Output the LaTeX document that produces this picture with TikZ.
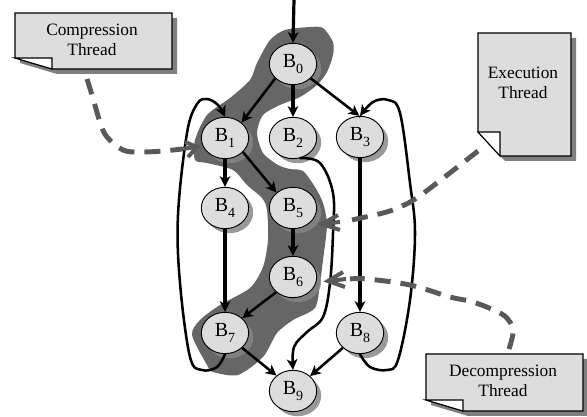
\documentclass[tikz,border=0pt]{standalone}
\usepackage{fontspec}
\setmainfont{Liberation Serif}
\usetikzlibrary{arrows.meta,shapes.geometric,shadows}
\definecolor{blobc}{HTML}{666666}
\definecolor{nodec}{HTML}{DDDDDD}
\definecolor{dashc}{HTML}{595959}
\definecolor{shadc}{HTML}{858585}
\definecolor{noteshad}{HTML}{808080}
\newcommand{\blocklabel}[1]{B\raisebox{-0.32em}{\fontsize{10.5}{12}\selectfont #1}}
\tikzset{
  block/.style={ellipse,draw=black,line width=0.7pt,fill=nodec,minimum width=35.5pt,minimum height=31pt,inner sep=0pt,
    font=\fontsize{15}{17}\selectfont,
    drop shadow={shadow xshift=3.4pt,shadow yshift=-3.4pt,fill=shadc,opacity=0.84}},
  edgeline/.style={draw=black,line width=1.9pt,-{Stealth[length=8pt,width=8pt,inset=2.2pt]}},
  vertline/.style={edgeline,line width=2.4pt},
  loopline/.style={edgeline,line cap=round},
  threadline/.style={draw=dashc,line width=3.7pt,dash pattern=on 12pt off 7.5pt},
  threadtip/.style={draw=dashc,line width=3pt,line join=miter},
  notebody/.style={draw=black,line width=0.8pt,fill=nodec},
  noteshadow/.style={fill=noteshad},
  notefold/.style={draw=black,line width=0.8pt,fill=white},
  notetext/.style={align=center,inner sep=0pt,font=\fontsize{13}{14.8}\selectfont},
}
\begin{document}
\begin{tikzpicture}[x=0.75pt,y=-0.75pt]
\useasboundingbox (0,0) rectangle (587,417);
% shaded region
\fill[blobc] plot[smooth cycle,tension=0.45] coordinates {
 (285,30) (310,27) (323,28) (333,42) (333,55) (327,72) (317,85) (300,97) (280,105) (263,115) (257,133) (263,153)
 (278,165) (290,169) (303,171) (315,187) (323,203) (327,225) (323,260) (320,283) (315,308) (293,320) (277,333)
 (263,357) (238,375) (213,372) (207,365) (192,335) (200,320) (220,305) (250,288) (263,267) (268,240) (267,210)
 (262,198) (247,185) (233,170) (207,163) (195,160) (195,140) (207,115) (230,98) (250,80) (257,63) (270,40)};
% blocks
\node[block] (B0) at (293,64) {\blocklabel{0}};
\node[block] (B1) at (225,138) {\blocklabel{1}};
\node[block] (B2) at (293,138) {\blocklabel{2}};
\node[block] (B3) at (360,137) {\blocklabel{3}};
\node[block] (B4) at (225,208) {\blocklabel{4}};
\node[block] (B5) at (293,208) {\blocklabel{5}};
\node[block] (B6) at (293,277) {\blocklabel{6}};
\node[block] (B7) at (225,333) {\blocklabel{7}};
\node[block] (B8) at (360,333) {\blocklabel{8}};
\node[block] (B9) at (293,391) {\blocklabel{9}};
\coordinate (entry) at (294,0);
% edges
\draw[vertline] (entry) -- (B0.north);
\draw[edgeline] (B0.219) -- (B1.43);
\draw[vertline] (B0.south) -- (B2.north);
\draw[edgeline] (B0.321) -- (B3.92);
\draw[vertline] (B1.south) -- (B4.north);
\draw[edgeline] (B1.322) -- (B5.137);
\draw[vertline] (B3.south) -- (B8.north);
\draw[vertline] (B4.south) -- (B7.north);
\draw[vertline] (B5.south) -- (B6.north);
\draw[edgeline] (B6.222) -- (B7.41);
\draw[edgeline] (B7.319) -- (B9.137);
\draw[edgeline] (B8.221) -- (B9.41);
\draw[loopline] plot[smooth,tension=0.6] coordinates {(B7.south) (217,367) (202,370) (190,357) (180,283) (178,215) (187,133) (197,104) (207,99) (218,105) (B1.north)};
\draw[loopline] plot[smooth,tension=0.6] coordinates {(B8.south) (370,367) (387,370) (398,360) (410,300) (415,233) (410,183) (400,113) (388,100) (373,102) (B3.north)};
\draw[loopline] plot[smooth,tension=0.6] coordinates {(B2.-70) (320,163) (333,193) (333,233) (330,283) (323,317) (307,332) (294,347) (B9.north)};
% notes
\fill[noteshadow] (20,18) -- (177,18) -- (177,74) -- (57,74) -- (20,63) -- cycle;
\draw[notebody] (15,13) -- (172,13) -- (172,69) -- (52,69) -- (15,58) -- cycle;
\draw[notefold] (15,58) -- (52,58) -- (52,69) -- cycle;
\node[notetext] (compression) at (92,40) {Compression\\Thread};
\fill[noteshadow] (483,38) -- (576,38) -- (576,161) -- (505,161) -- (483,137) -- cycle;
\draw[notebody] (478,33) -- (571,33) -- (571,156) -- (500,156) -- (478,132) -- cycle;
\draw[notefold] (478,132) -- (500,132) -- (500,156) -- cycle;
\node[notetext] (execution) at (523,83) {Execution\\Thread};
\fill[noteshadow] (431,359) -- (588,359) -- (588,416) -- (468,416) -- (431,405) -- cycle;
\draw[notebody] (426,354) -- (583,354) -- (583,411) -- (463,411) -- (426,400) -- cycle;
\draw[notefold] (426,400) -- (463,400) -- (463,411) -- cycle;
\node[notetext] (decompression) at (503,381) {Decompression\\Thread};
% thread arrows
\coordinate (cstart) at (87,79);
\coordinate (estart) at (478,151);
\coordinate (dstart) at (509,349);
\coordinate (ctip) at (197,147);
\coordinate (etip) at (322,224);
\coordinate (dtip) at (328,281);
\draw[threadline] plot[smooth,tension=0.6] coordinates {(cstart) (92,95) (100,122) (107,137) (123,150) (140,152) (163,151) (182,149)};
\draw[threadline] plot[smooth,tension=0.5] coordinates {(estart) (421,195) (400,207) (383,213) (347,221)};
\draw[threadline] plot[smooth,tension=0.6] coordinates {(dstart) (513,333) (510,322) (500,313) (473,302) (450,297) (410,285) (367,279) (350,279)};
\draw[threadtip] ([shift={(-12,-5)}]ctip) -- (ctip) -- ([shift={(-9,10)}]ctip);
\draw[threadtip] ([shift={(-16,2)}]ctip) -- (ctip);
\draw[threadtip] ([shift={(16,-9)}]etip) -- (etip) -- ([shift={(18,6)}]etip);
\draw[threadtip] ([shift={(18,-2)}]etip) -- (etip);
\draw[threadtip] ([shift={(15,-9)}]dtip) -- (dtip) -- ([shift={(17,6)}]dtip);
\draw[threadtip] ([shift={(18,-2)}]dtip) -- (dtip);
\end{tikzpicture}
\end{document}
